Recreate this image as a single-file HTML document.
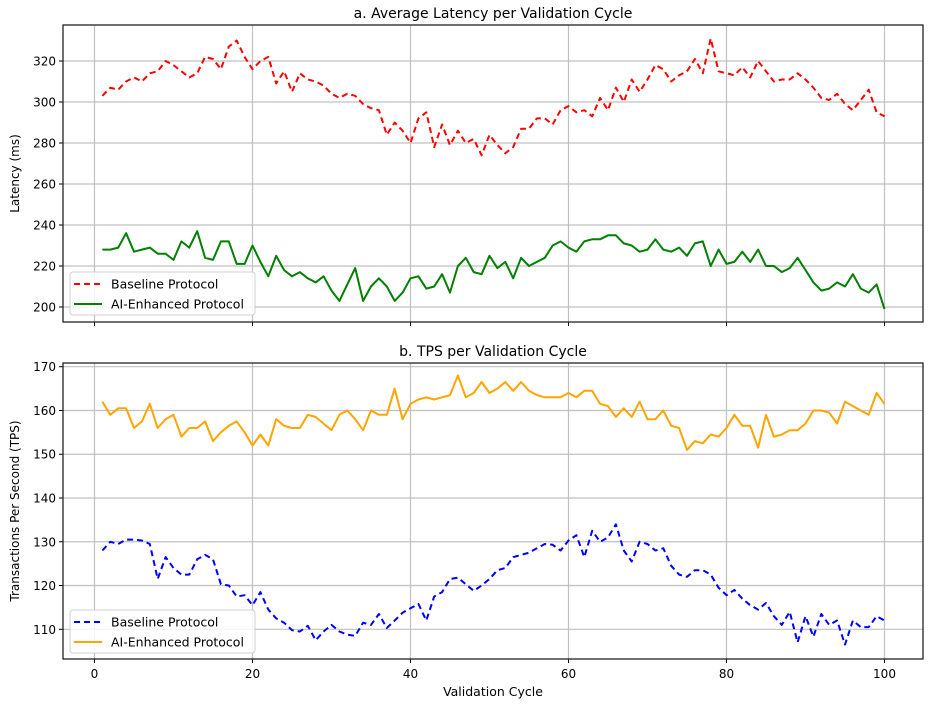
<!DOCTYPE html>
<html><head><meta charset="utf-8"><style>
body{margin:0;background:#fff;font-family:"Liberation Sans","DejaVu Sans",sans-serif}
svg text{font-family:"DejaVu Sans","Liberation Sans",sans-serif;fill:#000}
</style></head><body>
<svg id="c" width="935" height="706"></svg>
<script>
const cycles=[];for(let i=1;i<=100;i++)cycles.push(i);
const latBaseline=[303,307,306,310,312,310,314,315,320,318,315,312,314,322,321,316,327,330,322,316,320,322,309,315,305,314,311,310,308,304,302,304,303,299,297,296,284,290,286,280,292,295,278,289,279,286,280,282,274,284,279,275,278,287,287,292,292,289,296,298,295,296,293,302,296,307,300,311,305,311,318,316,310,313,315,321,314,331,315,314,313,317,312,320,315,310,311,311,314,311,307,302,301,304,299,296,301,306,295,293];
const latAI=[228,228,229,236,227,228,229,226,226,223,232,229,237,224,223,232,232,221,221,230,222,215,225,218,215,217,214,212,215,208,203,211,219,203,210,214,210,203,207,214,215,209,210,216,207,220,224,217,216,225,219,222,214,224,220,222,224,230,232,229,227,232,233,233,235,235,231,230,227,228,233,228,227,229,225,231,232,220,228,221,222,227,222,228,220,220,217,219,224,218,212,208,209,212,210,216,209,207,211,199];
const tpsAI=[162,159,160.5,160.5,156,157.5,161.5,156,158,159,154,156,156,157.5,153,155,156.5,157.5,155,152,154.5,152,158,156.5,156,156,159,158.5,157,155.5,159,160,158,155.5,160,159,159,165,158,161.5,162.5,163,162.5,163,163.5,168,163,164,166.5,164,165,166.5,164.5,166.5,164.5,163.5,163,163,163,164,163,164.5,164.5,161.5,161,158.5,160.5,158.5,162,158,158,160,156.5,156,151,153,152.5,154.5,154,156,159,156.5,156.5,151.5,159,154,154.5,155.5,155.5,157,160,160,159.5,157,162,161,160,159,164,161.5];
const tpsBaseline=[128,130,129.5,130.5,130.5,130.3,129.5,121.5,126.5,124,122.5,122.5,126,127,126,120.3,120,117.5,117.8,115.5,118.5,114.5,112.5,111.5,109.8,109.5,110.8,107.5,109.5,111,109.5,108.8,108.5,111.5,111,113.5,110.3,112,113.8,114.8,115.8,112,117.5,118.5,121.5,121.8,120.3,118.8,120,121.5,123.5,124,126.5,127,127.5,128.5,129.5,129.3,128,130.3,131.5,126.5,132.5,130,131,134,128,125.5,130,129.5,128,128.5,124.5,122.5,122,123.5,123.5,122.5,119.5,117.8,119,117,115.5,114.5,116,113,111,114,107,113,108.3,113.5,111,112,106.5,112,110.5,110.5,113,112];
const xTicks=[0,20,40,60,80,100];
const latTicks=[200,220,240,260,280,300,320];
const tpsTicks=[110,120,130,140,150,160,170];

const NS="http://www.w3.org/2000/svg";
const svg=document.getElementById('c');
function mk(tag,attrs,parent){const e=document.createElementNS(NS,tag);for(const k in attrs)e.setAttribute(k,attrs[k]);(parent||svg).appendChild(e);return e;}
const L=63,R=923;
const xs=v=>94.5+v*(884.5-94.5)/100;
function panel(top,bottom,yScale,ticks,title,ylabel,series,legendY,name){
  const g=mk('g',{});
  
  
  xTicks.forEach(t=>{const l=mk('line',{x1:xs(t),x2:xs(t),y1:top,y2:bottom,stroke:'#c0c0c0','stroke-width':1.2},g);
    
    mk('line',{x1:xs(t),x2:xs(t),y1:bottom,y2:bottom+4,stroke:'#000'},g);});
  ticks.forEach(t=>{const y=yScale(t);const l=mk('line',{x1:L,x2:R,y1:y,y2:y,stroke:'#c0c0c0','stroke-width':1.2},g);
    
    mk('line',{x1:L-4,x2:L,y1:y,y2:y,stroke:'#000'},g);
    const tx=mk('text',{x:L-7,y:y+4.5,'text-anchor':'end','font-size':12},g);tx.textContent=t;
    });
  series.forEach(s=>{const pts=s.data.map((v,i)=>xs(cycles[i]).toFixed(1)+','+yScale(v).toFixed(1)).join(' ');
    const p=mk('polyline',{points:pts,fill:'none',stroke:s.color,'stroke-width':2,'stroke-dasharray':s.dash||'','stroke-linejoin':'round'},g);
    });
  mk('rect',{x:L,y:top,width:R-L,height:bottom-top,fill:'none',stroke:'#222','stroke-width':1.3},g);
  const t=mk('text',{x:(L+R)/2,y:top-7,'text-anchor':'middle','font-size':14},g);t.textContent=title;
  
  const yl=mk('text',{x:0,y:0,'text-anchor':'middle','font-size':12,transform:`translate(19,${(top+bottom)/2}) rotate(-90)`},g);yl.textContent=ylabel;
  
  const lg=mk('g',{},g);
  mk('rect',{x:70,y:legendY,width:185,height:43,rx:3,fill:'#fff','fill-opacity':0.85,stroke:'#d0d0d0'},lg);
  series.forEach((s,i)=>{const y=legendY+12+i*20;
    mk('line',{x1:74,x2:102,y1:y,y2:y,stroke:s.color,'stroke-width':2,'stroke-dasharray':s.dash||''},lg);
    const tx=mk('text',{x:111,y:y+4.5,'font-size':12.5},lg);tx.textContent=s.label;
    });
}
const y1=v=>61+(320-v)*(307-61)/120;
const y2=v=>366.7+(170-v)*(629.3-366.7)/60;
panel(25,322,y1,latTicks,'a. Average Latency per Validation Cycle','Latency (ms)',
 [{data:latBaseline,color:'#ff0000',dash:'6,4',label:'Baseline Protocol',name:'baseline-latency-line'},
  {data:latAI,color:'#008000',label:'AI-Enhanced Protocol',name:'ai-latency-line'}],272,'latency-panel');
panel(363,659,y2,tpsTicks,'b. TPS per Validation Cycle','Transactions Per Second (TPS)',
 [{data:tpsBaseline,color:'#0000ff',dash:'6,4',label:'Baseline Protocol',name:'baseline-tps-line'},
  {data:tpsAI,color:'#ffa500',label:'AI-Enhanced Protocol',name:'ai-tps-line'}],610,'tps-panel');
xTicks.forEach(t=>{const tx=mk('text',{x:xs(t),y:678,'text-anchor':'middle','font-size':12});tx.textContent=t;
  });
const xt=mk('text',{x:(L+R)/2,y:696,'text-anchor':'middle','font-size':12.5});xt.textContent='Validation Cycle';


</script>
</body></html>
